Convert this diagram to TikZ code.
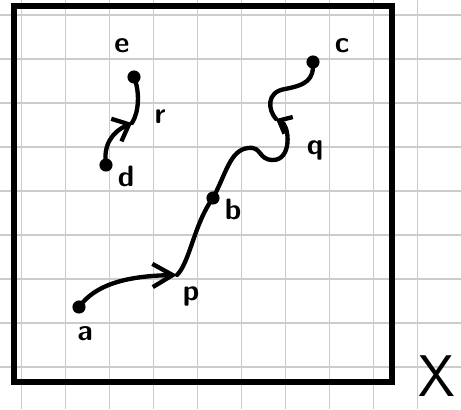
\documentclass[tikz,border=0pt]{standalone}
\usepackage{amsmath}
\usepackage{tikz}
\usetikzlibrary{arrows.meta}

\begin{document}
\begin{tikzpicture}[x=0.2273mm, y=-0.2273mm,
    gridline/.style={gray!40, line width=0.8pt},
    curve/.style={line width=2.8pt, line cap=round},
    pt/.style={circle, fill=black, inner sep=0pt, minimum size=8.5pt},
    lbl/.style={font=\sffamily\bfseries\fontsize{19}{19}\selectfont}]
  \useasboundingbox (0,0) rectangle (461,409);
  % squared paper behind the space
  \foreach \gx in {0,1,...,9}
    \draw[gridline] (21.7+44*\gx,0) -- (21.7+44*\gx,409);
  \foreach \gy in {0,1,...,8}
    \draw[gridline] (0,15+44*\gy) -- (461,15+44*\gy);
  % the space X
  \draw[line width=3.3pt] (14,6) rectangle (392,382);
  \node[font=\sffamily\fontsize{38}{38}\selectfont, inner sep=0pt] (X) at (437,376) {X};
  % marked points
  \node[pt] (a) at (79,307) {};
  \node[pt] (b) at (213,198) {};
  \node[pt] (c) at (313,62) {};
  \node[pt] (d) at (106,165) {};
  \node[pt] (e) at (134,77) {};
  \coordinate (p) at (177,275);
  \coordinate (q) at (276,119);
  \coordinate (r) at (132,123);
  % curves between them
  \draw[curve, -{Straight Barb[length=13pt, width=15pt]}]
    (a.center) .. controls (95,285) and (125,276) .. (p);
  \draw[curve] (p) .. controls (190,262) and (194,224) .. (b.center);
  \draw[curve, -{Straight Barb[length=7pt, width=12pt]}]
    (b.center) .. controls (226,174) and (230,150) .. (248,148)
    .. controls (262,146) and (258,160) .. (273,160)
    .. controls (292,160) and (290,126) .. (q);
  \draw[curve] (q) .. controls (268,110) and (266,92) .. (285,89)
    .. controls (306,85) and (314,80) .. (c.center);
  \draw[curve, -{Straight Barb[length=9pt, width=16pt]}]
    (d.center) .. controls (103,145) and (112,132) .. (r);
  \draw[curve] (r) .. controls (139,112) and (140,92) .. (e.center);
  % labels
  \node[lbl] (la) at (85,334) {a};
  \node[lbl] (lp) at (191,296) {p};
  \node[lbl] (lb) at (233,209) {b};
  \node[lbl] (lq) at (315,150) {q};
  \node[lbl] (lc) at (342,46) {c};
  \node[lbl] (le) at (122,46) {e};
  \node[lbl] (lr) at (160,117) {r};
  \node[lbl] (ld) at (126,176) {d};
\end{tikzpicture}
\end{document}
